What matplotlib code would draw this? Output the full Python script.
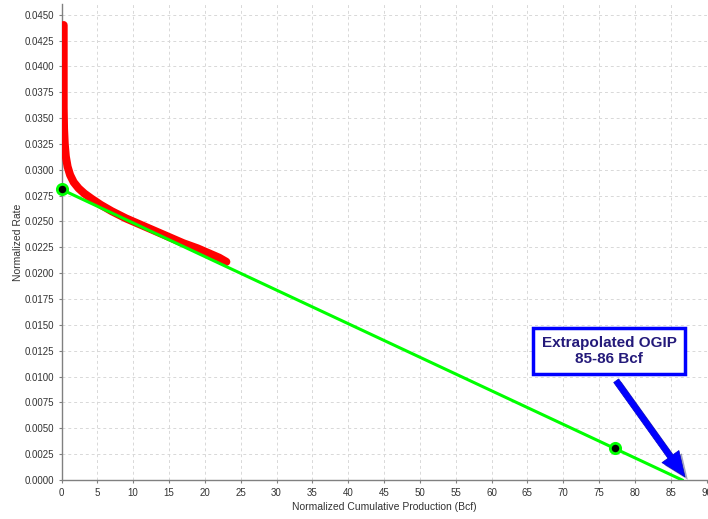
import matplotlib
matplotlib.use("Agg")
import matplotlib.pyplot as plt
import matplotlib.patheffects as pe
import numpy as np

# Data
red_x = [0.30, 0.30, 0.30, 0.35, 0.45, 0.6, 0.85, 1.2, 1.7, 2.4, 3.2, 4.2, 5.5, 7.0, 9.0, 11.0, 13.0, 15.0, 17.0, 19.0, 21.0, 22.0, 23.0]
red_y = [0.0440, 0.0400, 0.0360, 0.0340, 0.0325, 0.0313, 0.0303, 0.0295, 0.0288, 0.0282, 0.0277, 0.0272, 0.0266, 0.0260, 0.0253, 0.0247, 0.0241, 0.0235, 0.0229, 0.0224, 0.0218, 0.0215, 0.0211]
fit_x = [0.0, 86.6]
fit_y = [0.0281, 0.0]
pts_x = [0.0, 77.2]
pts_y = [0.0281, 0.00305]
x_ticks = list(range(0, 95, 5))
y_ticks = [i * 0.0025 for i in range(19)]
annot_text = "Extrapolated OGIP\n85-86 Bcf"

plt.rcParams['font.family'] = ['Liberation Sans', 'DejaVu Sans']

fig = plt.figure(figsize=(7.08, 5.19), dpi=100)
ax = fig.add_axes([61.5/708, 1 - 480/519, (706.5 - 61.5)/708, (480 - 4)/519])

ax.plot(red_x, red_y, color='#ff0000', lw=5.8, solid_capstyle='round', solid_joinstyle='round', zorder=3)
ax.plot(fit_x, fit_y, color='#00ff00', lw=2.2, zorder=4)
ax.scatter(pts_x, pts_y, s=55, facecolor='black', edgecolor='#00ff00', linewidth=2, zorder=5, clip_on=False)

ax.set_xlim(0, 90)
ax.set_ylim(0, 0.045 * 476 / 465.3)
ax.set_xticks(x_ticks)
ax.set_yticks(y_ticks)
ax.set_yticklabels([f"{v:.4f}" for v in y_ticks])
ax.set_xticklabels([str(v) for v in x_ticks])
ax.tick_params(axis='both', labelsize=7, colors='#808080', labelcolor='#333333', length=2, width=0.8)
ax.grid(True, color='#d8d8d8', linestyle=(0, (3, 3)), linewidth=0.7)
ax.set_axisbelow(True)
for s in ['top', 'right']:
    ax.spines[s].set_visible(False)
for s in ['left', 'bottom']:
    ax.spines[s].set_color('#808080')
    ax.spines[s].set_linewidth(1.0)

ax.set_xlabel("Normalized Cumulative Production (Bcf)", fontsize=7.5, color='#333333', labelpad=3)
ax.set_ylabel("Normalized Rate", fontsize=7.5, color='#333333', labelpad=1)

# Annotation box
ax.text(76.4, 0.01248, annot_text, ha='center', va='center', fontsize=11, fontweight='bold',
        color='#241a7a', linespacing=1.15, zorder=7,
        bbox=dict(boxstyle='square,pad=0.55', facecolor='white', edgecolor='#0000ff', linewidth=2.5))

# Arrow
ax.annotate("", xy=(87.0, 0.0003), xytext=(77.4, 0.0096),
            arrowprops=dict(arrowstyle='simple,head_length=0.9,head_width=0.75,tail_width=0.22',
                            mutation_scale=20, facecolor='#0000ff', edgecolor='#0000cc', lw=0.5,
                            shrinkA=0, shrinkB=0,
                            path_effects=[pe.SimplePatchShadow(offset=(2, -2), alpha=0.35), pe.Normal()]),
            zorder=6)

fig.savefig("out.png", dpi=100)
